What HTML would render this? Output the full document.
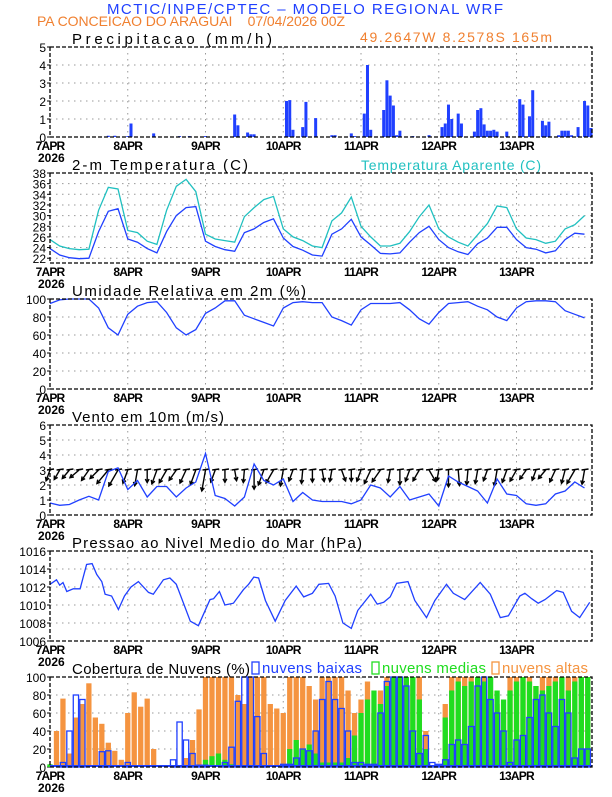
<!DOCTYPE html>
<html><head><meta charset="utf-8"><style>
body{margin:0;background:#fff;}
svg text{font-family:"Liberation Sans",sans-serif;}
</style></head><body>
<svg id="c" width="612" height="792" xmlns="http://www.w3.org/2000/svg">
<text x="107" y="14" textLength="396" lengthAdjust="spacing" font-size="15" fill="#2040ff">MCTIC/INPE/CPTEC – MODELO REGIONAL WRF</text>
<text x="37" y="26" textLength="308" lengthAdjust="spacing" font-size="14" fill="#f08030" xml:space="preserve">PA CONCEICAO DO ARAGUAI    07/04/2026 00Z</text>
<text x="360" y="42" textLength="192" lengthAdjust="spacing" font-size="14" fill="#f08030">49.2647W 8.2578S 165m</text>
<text x="361" y="170" textLength="180" lengthAdjust="spacing" font-size="14" fill="#20c0c0">Temperatura Aparente (C)</text>
</svg>
<script>
// ---- data ----
const days = ["7APR","8APR","9APR","10APR","11APR","12APR","13APR"];
const hours3 = [];for(let h=0;h<=165;h+=3)hours3.push(h);
const hours2 = [];for(let h=0;h<=166;h+=2)hours2.push(h);
const precipHours = [18,20,24,25,32,40,43,48,57,58,61,62,63,73,74,75,78,79,82,87,88,93,94,97,98,99,103,104,105,106,107,108,112,117,121,122,123,124,126,127,131,132,133,134,135,136,137,138,141,145,146,148,149,152,153,154,157,158,159,160,161,163,165,166,167];
const precipVals = [0.07,0.07,0.05,0.75,0.2,0.05,0.05,0.05,1.25,0.65,0.25,0.15,0.15,2.0,2.05,0.4,0.55,1.95,1.05,0.1,0.1,0.2,0.05,1.3,4.0,0.4,1.5,3.15,2.3,1.75,0.1,0.35,0.05,0.1,0.55,0.75,1.8,1.0,1.3,0.75,0.3,1.5,1.6,0.7,0.35,0.35,0.4,0.3,0.3,2.1,1.8,1.15,2.6,0.9,0.65,0.85,0.1,0.35,0.35,0.35,0.1,0.55,2.0,1.75,0.5];
const tempVals = [23.8,22.6,22.1,21.9,22.0,27.0,30.8,31.3, 25.6,25.0,23.8,23.0,27.0,30.0,31.5,31.7, 25.2,24.2,23.6,23.3,26.8,27.5,28.7,29.4, 25.8,24.2,23.5,22.6,22.4,26.5,27.5,29.3, 26.0,24.5,22.9,22.8,23.0,25.0,26.8,28.0, 25.5,24.0,23.2,22.7,24.7,25.8,27.8,27.8, 25.5,24.0,23.7,23.0,23.4,25.5,26.7,26.5];
const appTempVals = [25.5,24.3,23.8,23.6,23.7,31.0,35.3,35.0, 27.2,26.8,25.2,24.6,31.0,35.5,36.8,34.5, 26.5,25.6,25.3,25.0,29.8,31.5,33.0,33.6, 27.5,26.0,25.3,24.3,24.0,29.0,30.5,33.5, 28.0,26.0,24.3,24.3,24.8,27.0,29.8,32.0, 27.5,26.0,25.0,24.3,26.4,28.5,31.8,31.5, 27.5,25.8,25.5,24.8,25.2,27.5,28.3,30.0];
const rhVals = [95,99,100,100,100,90,68,60, 83,92,96,97,85,68,60,66, 84,90,98,98,82,78,74,70, 90,96,97,96,96,80,76,71, 88,95,95,95,96,88,78,72, 85,95,96,97,92,88,80,76, 90,97,98,98,97,87,83,79];
const windVals = [0.8,0.65,0.7,1.0,1.25,1.0,2.9,3.15, 1.7,2.3,1.2,1.9,1.9,1.2,1.8,2.2, 4.1,1.3,1.1,0.6,1.2,3.4,2.3,2.0, 2.4,0.9,1.5,1.0,0.9,0.9,0.9,0.75, 1.0,2.0,1.8,1.2,1.9,1.0,1.2,1.4, 0.6,2.6,2.2,1.9,1.6,0.8,2.4,1.4, 1.3,0.75,0.65,0.75,1.4,1.6,2.2,1.8];
const windDirs = [200,210,220,230,215,225,220,210, 200,190,180,200,210,215,205,200, 190,200,180,170,185,180,200,210, 190,200,185,180,170,190,160,180, 200,205,215,190,180,200,210,150, 190,180,175,185,190,200,190,200, 210,215,200,220,205,195,210,190];
const pressHours = [0,2,3,4,5.2,7.2,9.3,11.3,13,14.4,16,17,19,21.1,23,25,27.3,30.4,31.9,35,37,39,43.3,45.8,49.4,50.5,52.3,54,56.6,59.7,61.3,62.9,64.4,66.5,69.5,72.6,76,78.3,81,83,86,88,90.4,93,95,99,101,103,105,107,110.5,112.6,116.2,118.8,122.4,124.5,128,132.8,135.9,139,141.5,145,146.6,148.7,150.7,152.8,156.4,158.4,161,163.5,166.6];
const pressVals = [1012.3,1012.8,1012.2,1012.5,1011.5,1011.8,1011.8,1014.5,1014.6,1013.4,1012.6,1011.2,1011.0,1009.5,1011.0,1012.0,1012.6,1011.4,1011.2,1012.8,1013.0,1012.3,1008.2,1007.7,1010.6,1010.7,1011.5,1010.0,1010.2,1011.7,1012.3,1013.1,1013.0,1010.5,1008.2,1010.5,1012.1,1010.9,1011.3,1012.3,1012.4,1011.0,1008.0,1007.4,1009.4,1011.2,1010.1,1010.3,1010.9,1012.4,1012.6,1010.5,1008.6,1010.5,1012.3,1011.3,1010.6,1012.5,1011.2,1008.6,1008.8,1011.0,1011.3,1010.7,1010.2,1010.6,1011.6,1011.4,1009.3,1008.6,1010.3];
const cloudHigh = [0,40,76,15,55,70,93,55,48,27,18,8, 60,83,67,76,20,0,0,0,0,10,30,64, 100,100,100,100,100,80,70,100,100,100,70,65, 60,100,100,100,90,75,100,100,100,100,85,60, 75,95,60,85,100,100,100,100,100,100,40,0, 0,70,100,100,100,100,100,100,85,70,60,100, 100,100,100,90,100,100,100,100,100,100,100,100];
const cloudMid = [3,0,0,0,0,0,0,0,0,0,0,0, 0,0,0,0,0,0,0,0,0,0,0,0, 8,12,15,8,3,0,0,0,0,0,0,0, 0,20,30,20,25,15,5,5,5,5,10,35, 60,75,85,70,90,100,100,100,100,75,20,0, 0,55,85,95,90,95,100,95,100,85,75,85, 95,100,95,90,85,90,95,100,85,95,100,100];
const cloudLow = [0,0,5,40,80,75,0,0,17,18,0,0, 5,0,0,0,0,0,0,8,50,30,15,2, 2,0,0,5,22,73,100,100,56,15,0,0, 3,3,10,20,18,40,75,95,75,65,40,5, 5,3,3,60,95,100,100,90,40,15,35,5, 3,8,25,30,25,45,90,100,75,60,40,5, 30,35,55,75,80,60,45,75,60,10,20,20];

// ---- layout helpers ----
const NS="http://www.w3.org/2000/svg";
const svg=document.getElementById('c');
const X0=50,X1=592,HMAX=167.3;
const BLUE="#2040ff",CYAN="#20c0c0",ORANGE="#f59440",GREEN="#20dd20";
function xs(h){return X0+(X1-X0)*h/HMAX;}
function mk(tag,attrs,parent){const e=document.createElementNS(NS,tag);for(const k in attrs)e.setAttribute(k,attrs[k]);(parent||svg).appendChild(e);return e;}
function panel(top,ymin,ymax,ticks,title,titleLen,name){
  const g=mk('g',{});
  
  
  const bot=top+90;
  const ys=v=>bot-(v-ymin)/(ymax-ymin)*90;
  ticks.forEach(t=>{
    if(t>ymin&&t<ymax)mk('line',{x1:X0,x2:X1,y1:ys(t),y2:ys(t),stroke:'#999','stroke-dasharray':'1.5,4.5','stroke-width':1},g);
    const tl=mk('text',{x:X0-4,y:ys(t)+5,'text-anchor':'end','font-size':12,fill:'#000'},g);
    
    
    tl.textContent=t;
    mk('line',{x1:X0-3,x2:X0,y1:ys(t),y2:ys(t),stroke:'#000'},g);
  });
  days.forEach((d,i)=>{
    const x=xs(i*24);
    if(i>0)mk('line',{x1:x,x2:x,y1:top,y2:bot,stroke:'#999','stroke-dasharray':'1.5,4.5'},g);
    const tl=mk('text',{x:x,y:bot+13,'text-anchor':'middle','font-size':12,'font-weight':'bold',fill:'#000','letter-spacing':'-0.8'},g);
    
    
    tl.textContent=d;
  });
  const yr=mk('text',{x:X0-12,y:bot+25,'font-size':12,'font-weight':'bold',fill:'#000'},g);
  
  
  yr.textContent='2026';
  const tt=mk('text',{x:72,y:top-3,'font-size':15,fill:'#000',textLength:titleLen,lengthAdjust:'spacing'},g);
  
  
  tt.textContent=title;
  return {g,ys,top,bot};
}
function frame(p){mk('rect',{x:X0,y:p.top,width:X1-X0,height:90,fill:'none',stroke:'#000','stroke-width':1.3,'stroke-dasharray':'4,2'},p.g);}
function line(p,hs,vals,color,name){
  const pts=hs.map((h,i)=>xs(h).toFixed(1)+','+p.ys(vals[i]).toFixed(1)).join(' ');
  const l=mk('polyline',{points:pts,fill:'none',stroke:color,'stroke-width':1.3},p.g);
  
  
}

// Precip
const p1=panel(47,0,5,[0,1,2,3,4,5],'Precipitacao (mm/h)',200,'precip');
precipHours.forEach((h,i)=>{
  const r=mk('rect',{x:xs(h)-1.5,y:p1.ys(precipVals[i]),width:3,height:p1.bot-p1.ys(precipVals[i]),fill:BLUE},p1.g);
  
  
});
frame(p1);

// Temperature
const p2=panel(173,21.1,38,[22,24,26,28,30,32,34,36,38],'2-m Temperatura (C)',176,'temperature');
line(p2,hours3,appTempVals,CYAN,'apparent-temp-line');
line(p2,hours3,tempVals,BLUE,'temp-line');
frame(p2);

// RH
const p3=panel(299,0,100,[0,20,40,60,80,100],'Umidade Relativa em 2m (%)',234,'humidity');
line(p3,hours3,rhVals,BLUE,'rh-line');
frame(p3);

// Wind
const p4=panel(425,0,6,[0,1,2,3,4,5,6],'Vento em 10m (m/s)',152,'wind');
hours3.forEach((h,i)=>{
  const x=xs(h),y=p4.ys(3);
  const a=windDirs[i]*Math.PI/180,len=9+windVals[i]*3;
  const tx=x+Math.sin(a)*len,ty=y-Math.cos(a)*len;
  const g=mk('g',{},p4.g);
  
  
  mk('line',{x1:x,y1:y,x2:tx,y2:ty,stroke:'#000','stroke-width':1.4},g);
  const b1=a+Math.PI-0.5,b2=a+Math.PI+0.5;
  mk('polyline',{points:`${tx+Math.sin(b1)*4},${ty-Math.cos(b1)*4} ${tx},${ty} ${tx+Math.sin(b2)*4},${ty-Math.cos(b2)*4}`,fill:'none',stroke:'#000','stroke-width':1.4},g);
  mk('line',{x1:x-3,y1:y,x2:x+4,y2:y-1,stroke:'#000','stroke-width':1.4},g);
});
line(p4,hours3,windVals,BLUE,'wind-speed-line');
frame(p4);

// Pressure
const p5=panel(551,1006,1016,[1006,1008,1010,1012,1014,1016],'Pressao ao Nivel Medio do Mar (hPa)',290,'pressure');
line(p5,pressHours,pressVals,BLUE,'pressure-line');
frame(p5);

// Clouds
const p6=panel(677,0,100,[0,20,40,60,80,100],'Cobertura de Nuvens (%)',178,'clouds');
const bw=xs(2)-xs(0);
function bars(vals,fill,stroke,name){
  hours2.forEach((h,i)=>{
    if(vals[i]<=0)return;
    const y=p6.ys(vals[i]);
    const r=mk('rect',{x:xs(h)-bw/2+0.6,y:y,width:bw-1.2,height:p6.bot-y,fill:fill,stroke:stroke,'stroke-width':stroke==='none'?0:1.3},p6.g);
    
    
  });
}
bars(cloudHigh,ORANGE,'none','cloud-high-bar');
bars(cloudMid,GREEN,'none','cloud-mid-bar');
bars(cloudLow,'none',BLUE,'cloud-low-bar');
mk('line',{x1:X0,x2:X1,y1:p6.bot-1,y2:p6.bot-1,stroke:BLUE,'stroke-width':2},p6.g);
frame(p6);
const leg=[['nuvens baixas',BLUE,252,100],['nuvens medias',GREEN,372,104],['nuvens altas',ORANGE,492,86]];
leg.forEach(l=>{
  const g=mk('g',{});
  
  
  mk('rect',{x:l[2],y:662,width:7,height:12,fill:'none',stroke:l[1],'stroke-width':1.3},g);
  const t=mk('text',{x:l[2]+10,y:673,'font-size':15,fill:l[1],textLength:l[3],lengthAdjust:'spacing'},g);
  t.textContent=l[0];
});
</script>
</body></html>
